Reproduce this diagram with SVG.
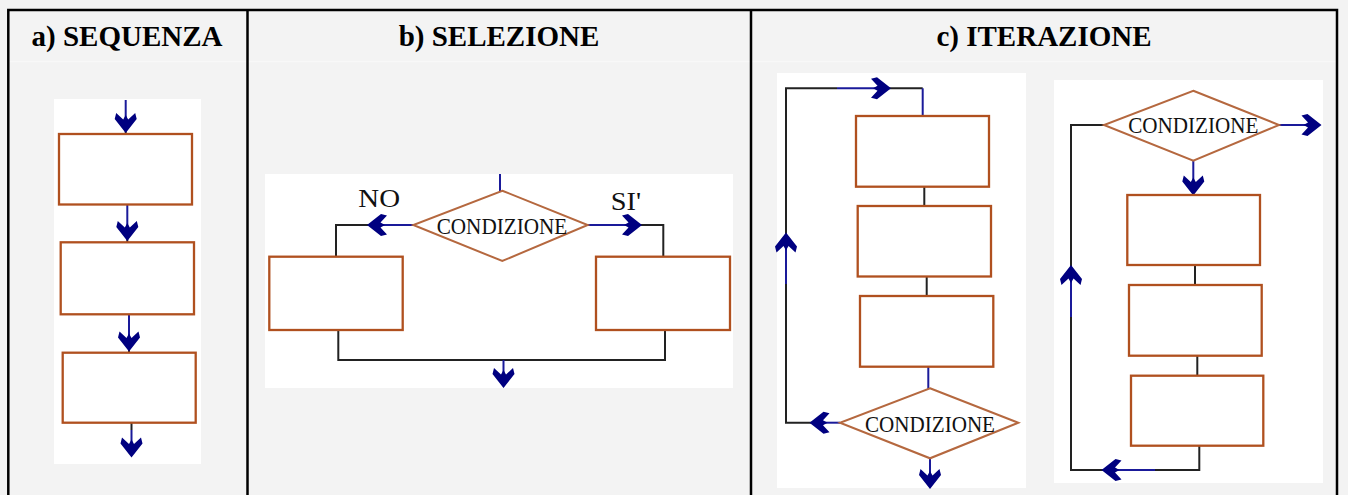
<svg xmlns="http://www.w3.org/2000/svg" width="1348" height="495" viewBox="0 0 1348 495">
<style>
.bg{fill:#f3f3f3}
.panel{fill:#ffffff}
.grid{fill:none;stroke:#000;stroke-width:2.5}
.box{fill:#ffffff;stroke:#b0501f;stroke-width:2.3}
.dia{fill:#ffffff;stroke:#b5683f;stroke-width:2}
.ln{fill:none;stroke:#222;stroke-width:2}
.nv{fill:none;stroke:#1a1a9a;stroke-width:2}
.ah{fill:#000080}
.hd{font-family:"Liberation Serif","Times New Roman",serif;font-weight:bold;font-size:29px;fill:#000;text-anchor:middle}
.cond{font-family:"Liberation Serif","Times New Roman",serif;font-size:22.5px;fill:#111}
.lbl{font-family:"Liberation Serif","Times New Roman",serif;font-size:25px;fill:#111}
</style>
<defs>
<path id="ah" class="ah" d="M0,1 L-11,-13 L-9.5,-19 L-2.5,-12.5 L0,-17 L2.5,-12.5 L9.5,-19 L11,-13 Z"/>
</defs>
<rect class="bg" x="0" y="0" width="1348" height="495"/>
<line x1="9" y1="61.5" x2="1336" y2="61.5" stroke="#f8f8f8" stroke-width="1.5"/>
<g id="table">
<path class="grid" d="M8.3,500 V10 H1337 V500 M247.5,10 V500 M751,10 V500"/>
<text class="hd" x="127" y="46">a) SEQUENZA</text>
<text class="hd" x="499" y="46">b) SELEZIONE</text>
<text class="hd" x="1044" y="46">c) ITERAZIONE</text>
</g>
<rect class="panel" x="54" y="99" width="147" height="365"/>
<rect class="panel" x="265" y="174" width="468" height="214"/>
<rect class="panel" x="777" y="73" width="249" height="415"/>
<rect class="panel" x="1054" y="80" width="269" height="403"/>
<g id="connectors">
<line class="nv" x1="125.7" y1="100" x2="125.7" y2="130"/>
<line class="ln" x1="125.7" y1="128" x2="125.7" y2="134"/>
<line class="nv" x1="127.3" y1="205" x2="127.3" y2="238"/>
<line class="ln" x1="127.3" y1="236" x2="127.3" y2="242"/>
<line class="nv" x1="129" y1="315" x2="129" y2="348"/>
<line class="ln" x1="129" y1="346" x2="129" y2="352"/>
<line class="ln" x1="131.5" y1="423" x2="131.5" y2="430"/>
<line class="nv" x1="131.5" y1="430" x2="131.5" y2="452"/>
<use href="#ah" transform="translate(125.7,132)"/>
<use href="#ah" transform="translate(127.3,240)"/>
<use href="#ah" transform="translate(129,350.5)"/>
<use href="#ah" transform="translate(131.5,456.5)"/>
<line class="nv" x1="500" y1="174" x2="500" y2="191"/>
<line class="nv" x1="413" y1="225" x2="372" y2="225"/>
<path class="ln" d="M370,225 H336 V257"/>
<line class="nv" x1="588" y1="225" x2="638" y2="225"/>
<path class="ln" d="M640,225 H663.3 V257"/>
<path class="ln" d="M338.3,330 V360 H665 V330"/>
<line class="nv" x1="503.5" y1="360" x2="503.5" y2="383"/>
<use href="#ah" transform="translate(368,225) rotate(90)"/>
<use href="#ah" transform="translate(641,225) rotate(-90)"/>
<use href="#ah" transform="translate(503.5,387)"/>
<path class="ln" d="M786,285 V88.3 H837"/>
<line class="nv" x1="837" y1="88.3" x2="887" y2="88.3"/>
<line class="ln" x1="889" y1="88.3" x2="922.7" y2="88.3"/>
<line class="nv" x1="922.7" y1="88.3" x2="922.7" y2="116"/>
<line class="nv" x1="786" y1="237" x2="786" y2="285"/>
<path class="ln" d="M786,284 V422.7 H812"/>
<line class="nv" x1="814" y1="422.7" x2="840" y2="422.7"/>
<line class="ln" x1="924.3" y1="187" x2="924.3" y2="206"/>
<line class="ln" x1="926.7" y1="277" x2="926.7" y2="296"/>
<line class="nv" x1="928.3" y1="367" x2="928.3" y2="389"/>
<line class="nv" x1="930" y1="458" x2="930" y2="484"/>
<use href="#ah" transform="translate(890,88.3) rotate(-90)"/>
<use href="#ah" transform="translate(786,233.5) rotate(180)"/>
<use href="#ah" transform="translate(810.5,422.7) rotate(90)"/>
<use href="#ah" transform="translate(930,488)"/>
<line class="nv" x1="1279" y1="125" x2="1317" y2="125"/>
<use href="#ah" transform="translate(1320.5,125) rotate(-90)"/>
<line class="nv" x1="1193.3" y1="161" x2="1193.3" y2="191"/>
<use href="#ah" transform="translate(1193.3,194.5)"/>
<line class="ln" x1="1195" y1="265" x2="1195" y2="285"/>
<line class="ln" x1="1197.3" y1="356" x2="1197.3" y2="376"/>
<path class="ln" d="M1199.3,446 V470 H1155"/>
<line class="nv" x1="1155" y1="470" x2="1106" y2="470"/>
<path class="ln" d="M1104,470 H1071 V316"/>
<line class="nv" x1="1071" y1="317" x2="1071" y2="270"/>
<path class="ln" d="M1071,270 V125 H1104"/>
<use href="#ah" transform="translate(1102.5,470) rotate(90)"/>
<use href="#ah" transform="translate(1071,266) rotate(180)"/>
</g>
<g id="a-box1"><rect class="box" x="59" y="134" width="133" height="70.5"/></g>
<g id="a-box2"><rect class="box" x="60.7" y="242.3" width="133.3" height="72"/></g>
<g id="a-box3"><rect class="box" x="62.7" y="352.7" width="133" height="70"/></g>
<g id="b-cond">
<polygon class="dia" points="502.3,190.7 587.7,225 502.3,261 413.3,225"/>
<text class="cond" x="436.7" y="233.5" textLength="130.6" lengthAdjust="spacingAndGlyphs">CONDIZIONE</text>
</g>
<g id="b-no"><text class="lbl" x="358.3" y="207" textLength="41.7" lengthAdjust="spacingAndGlyphs">NO</text></g>
<g id="b-si"><text class="lbl" x="610.7" y="210" textLength="30.3" lengthAdjust="spacingAndGlyphs">SI'</text></g>
<g id="b-box-no"><rect class="box" x="269.3" y="256.7" width="133.4" height="73.3"/></g>
<g id="b-box-si"><rect class="box" x="596" y="256.7" width="134" height="73.3"/></g>
<g id="c1-box1"><rect class="box" x="856" y="116" width="133" height="70.7"/></g>
<g id="c1-box2"><rect class="box" x="857.7" y="206" width="133.3" height="70.5"/></g>
<g id="c1-box3"><rect class="box" x="860" y="296" width="133.3" height="70.7"/></g>
<g id="c1-cond">
<polygon class="dia" points="930,388.3 1018.3,422.7 930,458.3 840,422.7"/>
<text class="cond" x="865" y="431.5" textLength="130" lengthAdjust="spacingAndGlyphs">CONDIZIONE</text>
</g>
<g id="c2-cond">
<polygon class="dia" points="1193.3,90.7 1279,125 1193.3,160.7 1104,125"/>
<text class="cond" x="1128.3" y="133.3" textLength="130" lengthAdjust="spacingAndGlyphs">CONDIZIONE</text>
</g>
<g id="c2-box1"><rect class="box" x="1127.3" y="195" width="132.7" height="70"/></g>
<g id="c2-box2"><rect class="box" x="1129" y="285" width="132.7" height="70.7"/></g>
<g id="c2-box3"><rect class="box" x="1131" y="375.7" width="132.3" height="70"/></g>
</svg>
